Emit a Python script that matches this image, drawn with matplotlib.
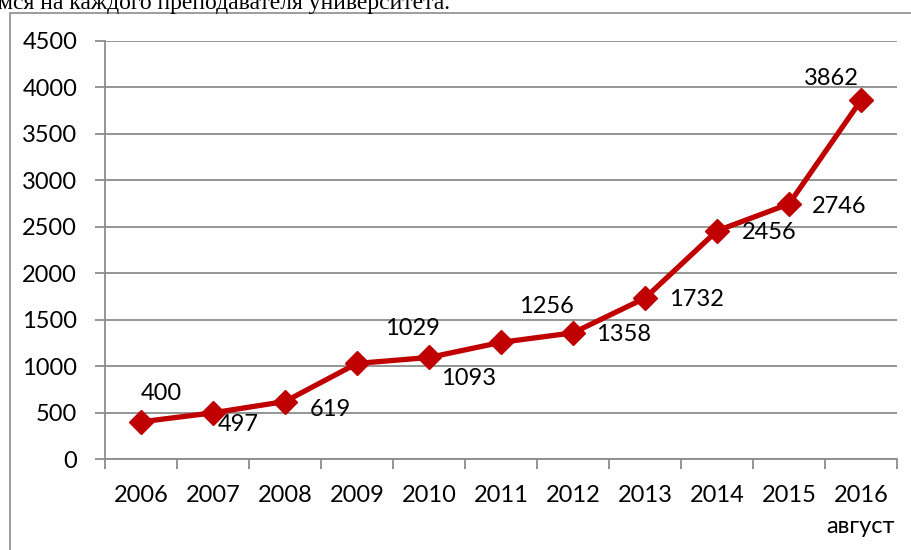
import matplotlib
matplotlib.use("Agg")
import matplotlib.pyplot as plt
from matplotlib.patches import Rectangle

years = ["2006", "2007", "2008", "2009", "2010", "2011", "2012", "2013", "2014", "2015", "2016\nавгуст"]
values = [400, 497, 619, 1029, 1093, 1256, 1358, 1732, 2456, 2746, 3862]
# label offsets in pixels (dx, dy) relative to the point
label_offsets = [(20, 28), (25, -12), (45, -8), (55, 35), (40, -21), (45, 36),
                 (51, -2), (51, -1), (52, -2), (50, -3), (-30, 22)]

W, H = 912, 550
plt.rcParams['font.family'] = ['Lato', 'DejaVu Sans']

fig = plt.figure(figsize=(W / 100, H / 100), dpi=100)

# chart frame (cut off at right/bottom like the screenshot)
fig.patches.append(Rectangle((10 / W, -0.1), 1.0, (H - 13) / H + 0.1, transform=fig.transFigure,
                             fill=False, edgecolor='#8c8c8c', linewidth=1.2))

# cut-off sentence above the chart
fig.text(-2 / W, (H - 9) / H, "мся на каждого преподавателя университета.",
         fontsize=17, family=['Liberation Serif', 'DejaVu Serif'], va='baseline', ha='left')

ax = fig.add_axes([105 / W, (H - 459) / H, (897 - 105) / W, (459 - 41) / H])
x = list(range(len(years)))
ax.plot(x, values, color='#C00000', linewidth=3.8, marker='D', markersize=12,
        solid_joinstyle='round', zorder=3)

for xi, v, (dx, dy) in zip(x, values, label_offsets):
    ax.annotate(str(v), (xi, v), xytext=(dx, dy), textcoords='offset pixels',
                ha='center', va='center', fontsize=17, color='black')

ax.set_xlim(-0.5, len(years) - 0.5)
ax.set_ylim(0, 4500)
ax.set_yticks(range(0, 4501, 500))
ax.yaxis.grid(True, color='#8c8c8c', linewidth=1.3)
ax.set_axisbelow(True)

ax.set_xticks(x)
ax.set_xticklabels(years, linespacing=1.55)
ax.set_xticks([i - 0.5 for i in range(len(years) + 1)], minor=True)
ax.tick_params(axis='x', which='major', length=0, pad=19, labelsize=17)
ax.tick_params(axis='x', which='minor', length=7, width=1.3, color='#8c8c8c', direction='out')
ax.tick_params(axis='y', length=7, width=1.3, color='#8c8c8c', labelsize=17, pad=13)

for s in ['top', 'right']:
    ax.spines[s].set_visible(False)
for s in ['left', 'bottom']:
    ax.spines[s].set_color('#8c8c8c')
    ax.spines[s].set_linewidth(1.3)

fig.savefig("out.png", dpi=100)
